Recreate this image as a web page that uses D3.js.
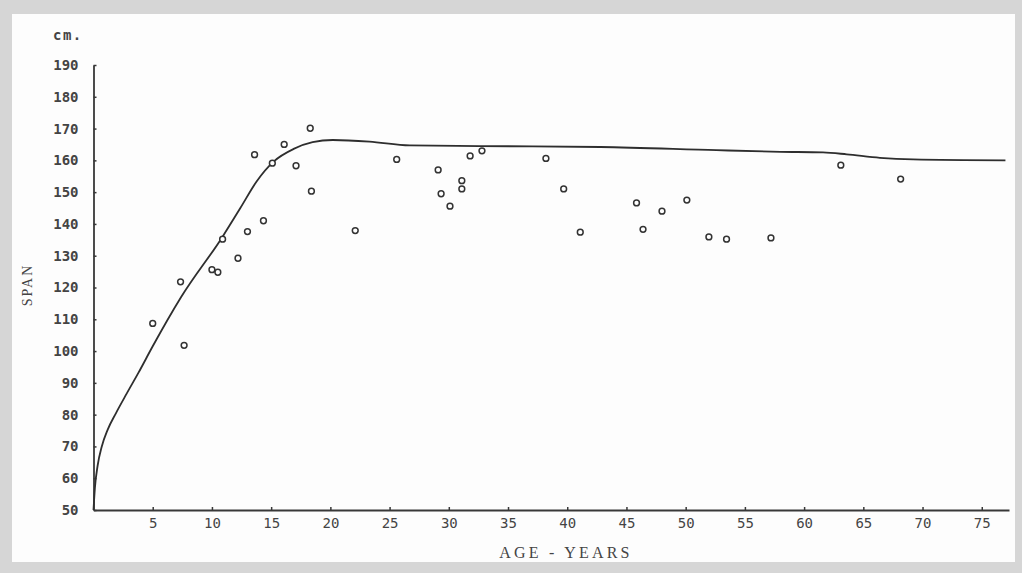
<!DOCTYPE html>
<html>
<head>
<meta charset="utf-8">
<script src="https://cdn.jsdelivr.net/npm/d3@7/dist/d3.min.js"></script>
<style>
  html, body { margin: 0; padding: 0; background: #d9d9d9; }
  svg { display: block; }
</style>
</head>
<body>
<svg id="chart" width="1022" height="573"></svg>
<script>
// Measured individuals: age (years) and arm span (cm)
const ages  = [5.0, 7.35, 7.65, 10.0, 10.5, 10.9, 12.2, 13.0, 14.35, 13.6, 15.1, 16.1, 17.1, 18.3, 18.4, 22.1,
               25.6, 29.1, 29.35, 30.1, 31.1, 31.1, 31.8, 32.8, 38.2, 39.7, 41.1,
               45.85, 46.4, 48.0, 50.1, 51.96, 53.45, 57.2, 63.1, 68.15];
const spans = [108.7, 121.8, 101.8, 125.6, 124.8, 135.2, 129.2, 137.6, 141.0, 161.8, 159.1, 165.0, 158.3, 170.1, 150.3, 137.9,
               160.3, 157.0, 149.5, 145.6, 153.6, 151.0, 161.4, 163.0, 160.6, 151.0, 137.4,
               146.6, 138.3, 144.0, 147.5, 135.9, 135.2, 135.6, 158.5, 154.1];

// Smoothed growth curve (age, span)
const curveAges  = [0, 0.12, 0.35, 0.7, 1.2, 1.9, 2.8, 3.8, 5.0, 7.4, 10.9, 12.4, 13.8, 15.2, 16.9, 18.5, 20.2, 23.3,
                    26.7, 32.6, 42.8, 52.6, 58, 61.6, 63.6, 66.4, 69.2, 77];
const curveSpans = [50, 57, 64, 70, 75.3, 80.5, 86.6, 93.2, 101.5, 117, 136, 145, 153.5, 159.6, 163.6, 165.7, 166.4, 165.9,
                    164.7, 164.5, 164.2, 163.2, 162.7, 162.5, 161.9, 160.8, 160.3, 160.0];

const xTicks = [5, 10, 15, 20, 25, 30, 35, 40, 45, 50, 55, 60, 65, 70, 75];
const yTicks = [50, 60, 70, 80, 90, 100, 110, 120, 130, 140, 150, 160, 170, 180, 190];

const svg = d3.select("#chart");
const ink = "#383838";

// paper sheet
svg.append("rect").attr("x", 0).attr("y", 0).attr("width", 1022).attr("height", 573).attr("fill", "#d6d6d6");
svg.append("rect").attr("x", 12).attr("y", 14).attr("width", 1003).attr("height", 548).attr("fill", "#fdfdfd");

const x = d3.scaleLinear().domain([0, 77.3]).range([93.5, 1009]);
const y = d3.scaleLinear().domain([50, 190]).range([510, 65]);

// axes
const xAxis = d3.axisBottom(x).tickValues(xTicks).tickSizeInner(-3).tickSizeOuter(0).tickPadding(8);
const yAxis = d3.axisLeft(y).tickValues(yTicks).tickSizeInner(-3).tickSizeOuter(0).tickPadding(15);

const gx = svg.append("g").attr("transform", `translate(0,${y(50)})`).call(xAxis);
const gy = svg.append("g").attr("transform", `translate(${x(0)},0)`).call(yAxis);

[gx, gy].forEach(g => {
  g.select(".domain").attr("stroke", ink).attr("stroke-width", 1.8);
  g.selectAll(".tick line").attr("stroke", ink).attr("stroke-width", 1.5);
});
gx.selectAll(".tick text")
  .attr("font-family", "DejaVu Sans Mono")
  .attr("font-size", 14)
  .attr("fill", "#444");
gy.selectAll(".tick text")
  .attr("font-family", "DejaVu Sans Mono")
  .attr("font-weight", "bold")
  .attr("font-size", 14)
  .attr("fill", "#444");

// growth curve
const line = d3.line()
  .x((d, i) => x(curveAges[i]))
  .y((d, i) => y(curveSpans[i]))
  .curve(d3.curveMonotoneX);
svg.append("path")
  .datum(curveAges)
  .attr("d", line)
  .attr("fill", "none")
  .attr("stroke", "#2e2e2e")
  .attr("stroke-width", 1.8);

// individual measurements
svg.append("g").selectAll("circle")
  .data(ages)
  .join("circle")
  .attr("cx", (d) => x(d))
  .attr("cy", (d, i) => y(spans[i]))
  .attr("r", 2.9)
  .attr("fill", "#fff")
  .attr("stroke", "#333")
  .attr("stroke-width", 1.5);

// labels
svg.append("text")
  .attr("x", 53).attr("y", 40)
  .attr("font-family", "DejaVu Sans Mono")
  .attr("font-weight", "bold")
  .attr("font-size", 14)
  .attr("letter-spacing", 1.5)
  .attr("fill", "#444")
  .text("cm.");

svg.append("text")
  .attr("transform", "translate(32,285) rotate(-90)")
  .attr("text-anchor", "middle")
  .attr("font-family", "Liberation Serif")
  .attr("font-size", 14)
  .attr("letter-spacing", 2)
  .attr("fill", "#444")
  .text("SPAN");

svg.append("text")
  .attr("x", 566).attr("y", 558)
  .attr("text-anchor", "middle")
  .attr("font-family", "Liberation Serif")
  .attr("font-size", 16)
  .attr("letter-spacing", 3.2)
  .attr("fill", "#444")
  .text("AGE - YEARS");
</script>
</body>
</html>
